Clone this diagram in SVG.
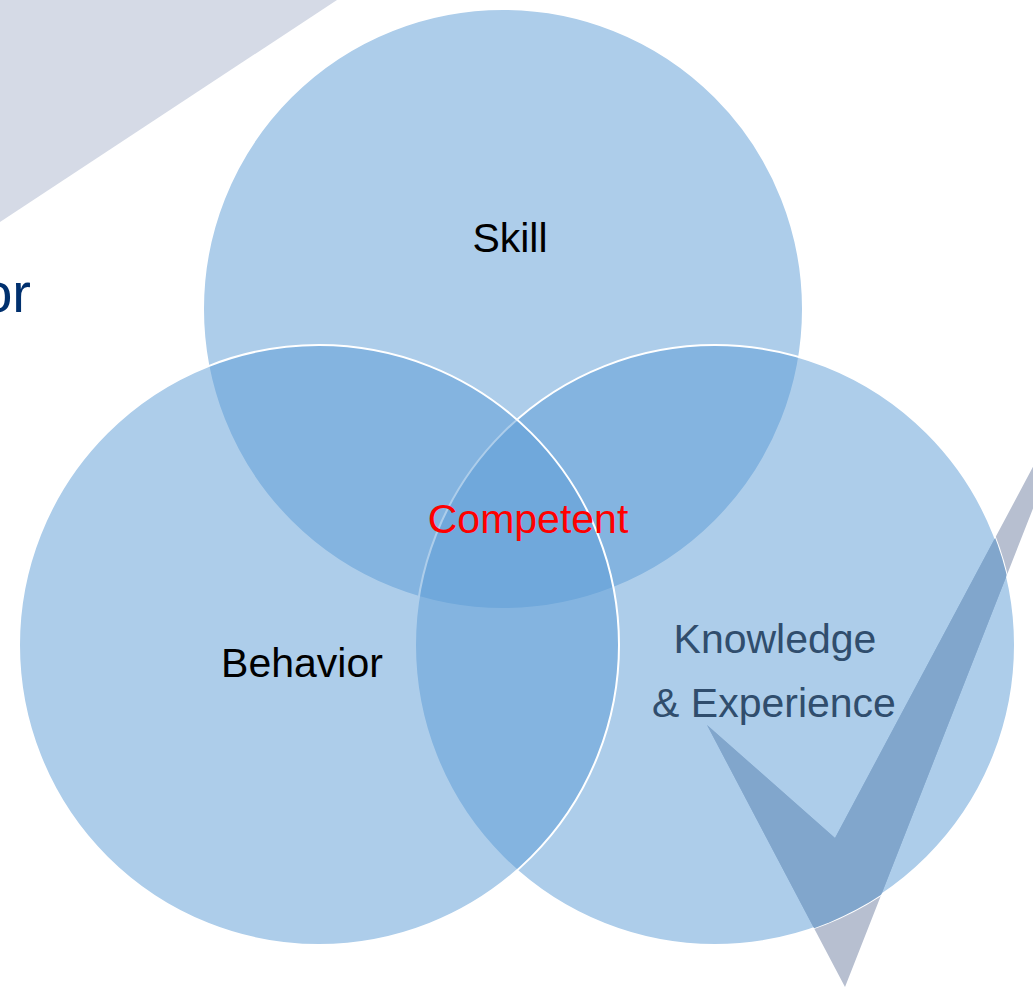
<svg xmlns="http://www.w3.org/2000/svg" width="1033" height="987" viewBox="0 0 1033 987">
  <style>
    .c { fill: #5B9BD5; fill-opacity: 0.5; stroke: #FFFFFF; stroke-width: 2; }
    .t { font-family: "Liberation Sans", Arial, sans-serif; font-size: 41px; text-anchor: middle; }
  </style>
  <defs>
    <clipPath id="kclip"><circle cx="715" cy="645" r="300"/></clipPath>
  </defs>
  <rect width="1033" height="987" fill="#FFFFFF"/>
  <g id="background">
    <polygon points="0,0 337,0 0,222" fill="#D5DAE6"/>
    <text x="31" y="312" text-anchor="end" font-family="'Liberation Sans', Arial, sans-serif" font-size="56" fill="#00306E">or</text>
    <polygon id="check" points="707,725 835,838 1042,450 1056,450 845,987" fill="#B7BFD0"/>
  </g>
  <g id="skill">
    <circle class="c" cx="503" cy="309" r="300"/>
    <text class="t" x="510" y="252" fill="#000000">Skill</text>
  </g>
  <g id="knowledge">
    <circle class="c" cx="715" cy="645" r="300"/>
    <polygon points="707,725 835,838 1042,450 1056,450 845,987" fill="#81A6CC" clip-path="url(#kclip)"/>
    <text class="t" x="775" y="653" fill="#304D6D">Knowledge</text>
    <text class="t" x="774" y="717" fill="#304D6D">&amp; Experience</text>
  </g>
  <g id="behavior">
    <circle class="c" cx="319" cy="645" r="300"/>
    <text class="t" x="302" y="677" fill="#000000">Behavior</text>
  </g>
  <g id="competent">
    <text class="t" x="528" y="533" fill="#FF0000">Competent</text>
  </g>
  <g id="connectors"/>
</svg>
